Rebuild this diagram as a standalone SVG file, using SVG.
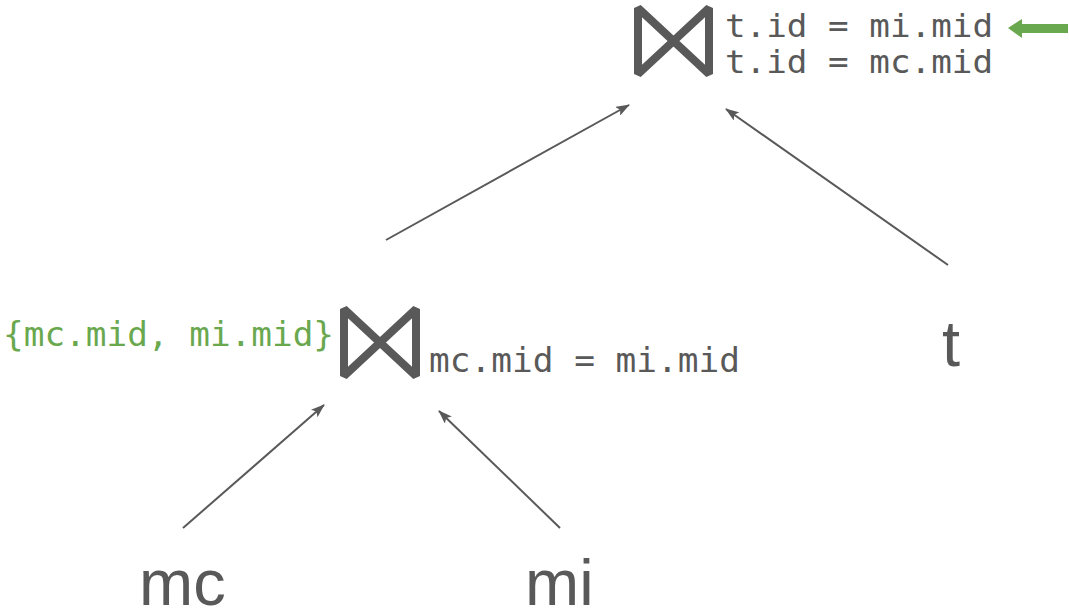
<svg xmlns="http://www.w3.org/2000/svg" width="1069" height="613" viewBox="0 0 1069 613">
  <style>
    .mono { font-family: "DejaVu Sans Mono", "Liberation Mono", monospace; font-size: 34px; fill: #595959; }
    .tight { font-size: 32.5px; }
    .green { fill: #6aa84f; }
    .rel { font-family: "Liberation Sans", Arial, sans-serif; font-size: 65px; fill: #595959; }
    .bowtie { fill: none; stroke: #595959; stroke-width: 8; stroke-linejoin: bevel; }
    .edge { fill: none; stroke: #595959; stroke-width: 2; }
  </style>
  <defs>
    <!-- filled triangular arrowhead for the plan edges -->
    <marker id="head" viewBox="0 0 14 10" refX="13" refY="5" markerWidth="14" markerHeight="10" markerUnits="userSpaceOnUse" orient="auto">
      <path d="M0,0 L14,5 L0,10 L3,5 Z" fill="#595959"/>
    </marker>
  </defs>
  <rect width="1069" height="613" fill="#ffffff"/>

  <g id="connectors">
    <line class="edge" x1="386" y1="240" x2="629" y2="105" marker-end="url(#head)"/>
    <line class="edge" x1="948" y1="265" x2="726" y2="109" marker-end="url(#head)"/>
    <line class="edge" x1="183" y1="528" x2="324" y2="405" marker-end="url(#head)"/>
    <line class="edge" x1="560" y1="528" x2="439" y2="411" marker-end="url(#head)"/>
  </g>

  <g id="join-top">
    <path class="bowtie" d="M638,8 L638,74 L709,8 L709,74 Z"/>
    <text class="mono tight" x="725" y="37" textLength="268" lengthAdjust="spacingAndGlyphs">t.id = mi.mid</text>
    <text class="mono tight" x="725" y="73" textLength="268" lengthAdjust="spacingAndGlyphs">t.id = mc.mid</text>
    <polygon class="green" points="1008,28 1022,19 1022,24 1068,24 1068,33 1022,33 1022,38"/>
  </g>

  <g id="join-bottom">
    <path class="bowtie" d="M344,309 L344,376 L416,309 L416,376 Z"/>
    <text class="mono" x="429" y="372" textLength="311" lengthAdjust="spacingAndGlyphs">mc.mid = mi.mid</text>
    <text class="mono green" x="3" y="346" textLength="331" lengthAdjust="spacingAndGlyphs">{mc.mid, mi.mid}</text>
  </g>

  <g id="rel-t">
    <text class="rel" x="942" y="366">t</text>
  </g>
  <g id="rel-mc">
    <text class="rel" x="139" y="605">mc</text>
  </g>
  <g id="rel-mi">
    <text class="rel" x="525" y="605">mi</text>
  </g>
</svg>
